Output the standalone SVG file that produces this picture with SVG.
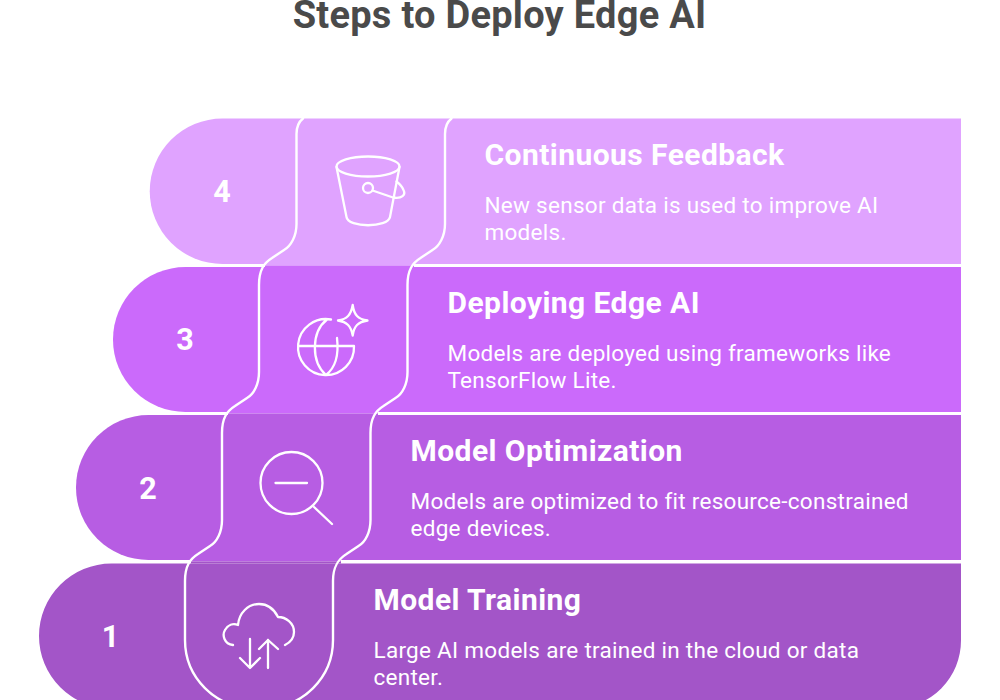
<svg xmlns="http://www.w3.org/2000/svg" width="1000" height="700" viewBox="0 0 1000 700">
<style>
.sep{fill:none;stroke:#fff;stroke-width:2.4;stroke-linecap:round}
.ic{fill:none;stroke:#fff;stroke-width:2.3;stroke-linecap:round;stroke-linejoin:round}
text{font-family:Roboto,"Liberation Sans",sans-serif;fill:#fff}
.t{font-size:30px;font-weight:700;letter-spacing:.44px}
.b{font-size:22.500px;font-weight:400;letter-spacing:.28px}
.n{font-size:30.500px;font-weight:700;text-anchor:middle}
</style>
<rect width="1000" height="700" fill="#fff"/>
<text x="499.500" y="27.500" text-anchor="middle" style="font-size:38px;font-weight:700;letter-spacing:.27px;fill:#4A4A4A">Steps to Deploy Edge AI</text>
<g id="step4">
<path d="M222.500 118.500H961V264H222.500A72.750 72.750 0 0 1 222.500 118.500Z" fill="#E0A3FF"/>
<path d="M265 264H414V265.500H265Z" fill="#E0A3FF"/>
<text class="n" x="222" y="201.500">4</text>
<g class="ic"><ellipse cx="368" cy="166.500" rx="31.500" ry="10"/><path d="M336.500 167L346.500 217C348 228 388 228 390 217L399.500 167"/><circle cx="368" cy="188" r="5"/><path d="M372.500 190.500L393 197.500C402 199 406 195 403.500 190C402 186 399 183.500 396.500 181.500"/></g>
<text class="t" x="484.500" y="165">Continuous Feedback</text>
<text class="b" x="484.500" y="212.700">New sensor data is used to improve AI</text>
<text class="b" x="484.500" y="240">models.</text>
</g>
<g id="step3">
<path d="M185.500 267H961V412H185.500A72.500 72.500 0 0 1 185.500 267Z" fill="#CB6AFB"/>
<path d="M265 265.500H414V267H265ZM228 412H378V413.500H228Z" fill="#CB6AFB"/>
<text class="n" x="185" y="350">3</text>
<g class="ic"><path d="M331 319.500A28 28 0 1 0 354 346H298.500M327 319.500C311 332 311 362 326 375C335 368 339 355 337 338"/><path d="M352.700 305C354 315 358 319 367.500 320.500C358 322 354 326 352.700 335.500C351 326 347 322 338 320.500C347 319 351 315 352.700 305Z"/></g>
<text class="t" x="447.500" y="313">Deploying Edge AI</text>
<text class="b" x="447.500" y="360.700">Models are deployed using frameworks like</text>
<text class="b" x="447.500" y="388">TensorFlow Lite.</text>
</g>
<g id="step2">
<path d="M148.500 415H961V560H148.500A72.500 72.500 0 0 1 148.500 415Z" fill="#B75DE3"/>
<path d="M228 413.500H378V415H228ZM191 560H341V561.500H191Z" fill="#B75DE3"/>
<text class="n" x="148" y="498.500">2</text>
<g class="ic"><circle cx="291.500" cy="483" r="31"/><path d="M275.500 483H307M314 507L332 524"/></g>
<text class="t" x="410.500" y="461">Model Optimization</text>
<text class="b" x="410.500" y="509">Models are optimized to fit resource-constrained</text>
<text class="b" x="410.500" y="536.300">edge devices.</text>
</g>
<g id="step1">
<path d="M111.500 563.500H961V640A68 68 0 0 1 893 708.500H111.500A72.500 72.500 0 0 1 111.500 563.500Z" fill="#A355C8"/>
<path d="M191 561.500H341V563.500H191Z" fill="#A355C8"/>
<text class="n" x="110.500" y="647">1</text>
<g class="ic"><path d="M233 645C224 644 222 635 225 630C228 625 233 623 238 625C239 613 248 604 259 604C268 604 274 609 278 617C286 617 294 623 294 632C294 638 291 642 285 645"/><path d="M250 639V668M240 658L250 668L260 658M268 668V640M259 649L268 640L278 649"/></g>
<text class="t" x="373.500" y="609.500">Model Training</text>
<text class="b" x="373.500" y="657.500">Large AI models are trained in the cloud or data</text>
<text class="b" x="373.500" y="685">center.</text>
</g>
<g id="connectors">
<path id="sepL" class="sep" d="M303 118.500C298.500 122 296.500 127 296.500 134V224C296.500 236 291 246 284 250L272 258C264 263 259 270 259 285V372C259 384 254 394 247 398L235 406C227 411 222 418 222 433V520C222 532 217 542 210 546L198 554C190 559 185 566 185 581V640A68 68 0 0 0 253 708"/>
<path id="sepR" class="sep" d="M451.500 118.500C447 122 445 127 445 134V224C445 236 439.500 246 432.500 250L420.500 258C412.500 263 407.500 270 407.500 285V372C407.500 384 402.500 394 395.500 398L383.500 406C375.500 411 370.500 418 370.500 433V520C370.500 532 365.500 542 358.500 546L346.500 554C338.500 559 333 566 333 581V640A68 68 0 0 1 265 708"/>
</g>
</svg>
